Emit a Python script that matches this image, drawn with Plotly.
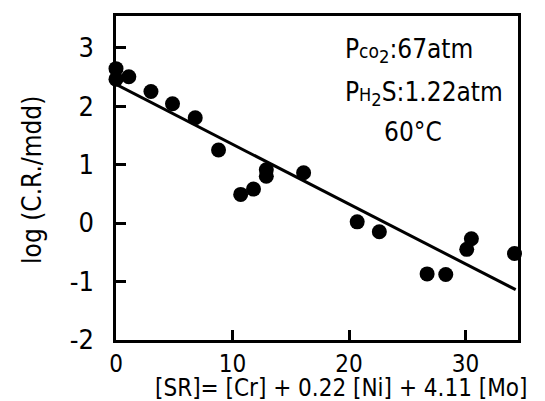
import plotly.graph_objects as go

sr = [0.0, 0.0, 1.1, 3.0, 4.85, 6.8, 8.8, 10.7, 11.8, 12.9, 12.9, 16.1, 20.7, 22.6, 26.7, 28.3, 30.1, 30.5, 34.2]
log_cr = [2.64, 2.46, 2.5, 2.25, 2.04, 1.8, 1.25, 0.49, 0.58, 0.91, 0.8, 0.86, 0.02, -0.15, -0.87, -0.88, -0.45, -0.27, -0.52]
fit_x = [0.0, 34.3]
fit_y = [2.37, -1.14]

xticks = [0, 10, 20, 30]
yticks = [-2, -1, 0, 1, 2, 3]

FONT = "DejaVu Sans Condensed, sans-serif"

fig = go.Figure()
fig.add_trace(go.Scatter(x=fit_x, y=fit_y, mode="lines",
                         line=dict(color="black", width=3), showlegend=False))
fig.add_trace(go.Scatter(x=sr, y=log_cr, mode="markers",
                         marker=dict(color="black", size=15), showlegend=False,
                         cliponaxis=False))

axis_common = dict(showgrid=False, zeroline=False, showline=True, mirror=True,
                   linecolor="black", linewidth=2.5, ticks="inside", ticklen=10,
                   tickwidth=2.5, tickcolor="black", automargin=False)

fig.update_xaxes(range=[0, 34.5], tickvals=xticks, ticktext=[str(v) for v in xticks],
                 ticklabelstandoff=0, tickfont=dict(family=FONT, size=24, color="black"),
                 **axis_common)
fig.update_yaxes(range=[-2, 3.54], tickvals=yticks, ticktext=[str(v) for v in yticks],
                 ticklabelstandoff=14, tickfont=dict(family=FONT, size=27, color="black"),
                 **axis_common)

# axis titles
fig.add_annotation(xref="paper", yref="paper", x=0.56, y=-0.148, showarrow=False,
                   xanchor="center", yanchor="middle",
                   text="[SR]= [Cr] + 0.22 [Ni] + 4.11 [Mo]",
                   font=dict(family=FONT, size=24, color="black"))
fig.add_annotation(xref="paper", yref="paper", x=-0.209, y=0.494, showarrow=False,
                   xanchor="center", yanchor="middle", textangle=-90,
                   text="log (C.R./mdd)",
                   font=dict(family=FONT, size=26, color="black"))

ann_font = dict(family=FONT, size=26, color="black")
fig.add_annotation(xref="paper", yref="paper", x=0.565, y=0.892, showarrow=False,
                   xanchor="left", yanchor="middle",
                   text="P<span style='font-size:19px'>co</span><sub>2</sub>:67atm", font=ann_font)
fig.add_annotation(xref="paper", yref="paper", x=0.565, y=0.762, showarrow=False,
                   xanchor="left", yanchor="middle",
                   text="P<span style='font-size:18px'>H</span><sub>2</sub>S:1.22atm", font=ann_font)
fig.add_annotation(xref="paper", yref="paper", x=0.739, y=0.642, showarrow=False,
                   xanchor="center", yanchor="middle",
                   text="60°C", font=ann_font)

# page body has an 8px default margin, so the figure is 8px smaller and offsets shifted
fig.update_layout(width=537, height=393, margin=dict(l=108, r=27, t=8, b=61, autoexpand=False),
                  plot_bgcolor="white", paper_bgcolor="white")

fig.write_html("out.html")
